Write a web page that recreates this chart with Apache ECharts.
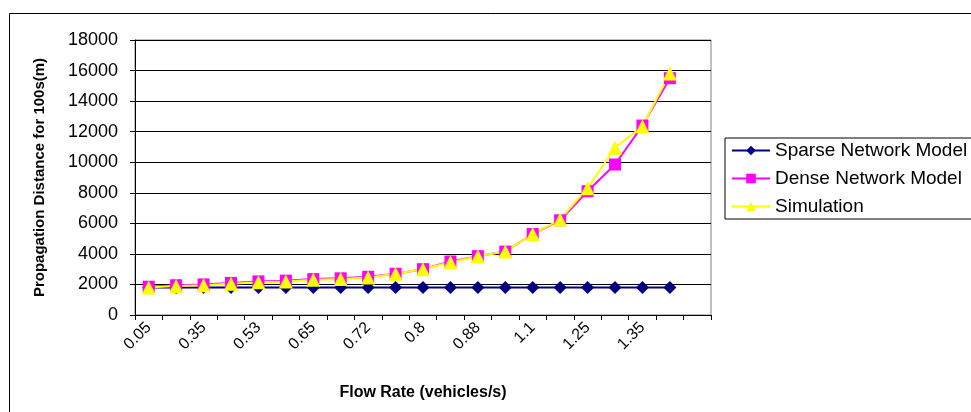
<!DOCTYPE html>
<html><head><meta charset="utf-8">
<script src="https://cdn.jsdelivr.net/npm/echarts@6/dist/echarts.min.js"></script>
<style>html,body{margin:0;padding:0;background:#fff}#c{width:971px;height:412px}</style>
</head><body><div id="c"></div>
<script>
var categories = ['0.05','0.2','0.35','0.45','0.53','0.6','0.65','0.7','0.72','0.75','0.8','0.85','0.88','1','1.1','1.2','1.25','1.3','1.35','1.4',''];
var sparse = [1800,1800,1800,1800,1800,1800,1800,1800,1800,1800,1800,1800,1800,1800,1800,1800,1800,1800,1800,1800];
var dense = [1850,1950,2000,2100,2200,2250,2350,2400,2500,2700,3000,3500,3850,4150,5300,6200,8100,9850,12400,15500];
var simulation = [1800,1900,1950,2050,2150,2200,2300,2350,2450,2700,3000,3450,3850,4150,5300,6250,8300,10950,12350,15800];
var yTicks = {min:0, max:18000, interval:2000};

var chart = echarts.init(document.getElementById('c'));
var F = 'Liberation Sans, Arial, sans-serif';
chart.setOption({
  animation:false,
  graphic:[{type:'rect',shape:{x:9.5,y:13.5,width:1000,height:500},style:{fill:'none',stroke:'#000',lineWidth:1}}],
  grid:{left:135,right:260,top:40,bottom:97,show:true,borderColor:'#808080',borderWidth:1},
  legend:{
    left:725, top:138, orient:'vertical', itemGap:9, itemWidth:38, itemHeight:12,
    padding:[3,12,3,6], borderColor:'#000', borderWidth:1, itemStyle:{borderWidth:0},
    textStyle:{fontFamily:F,fontSize:19,color:'#000'},
    data:['Sparse Network Model','Dense Network Model','Simulation']
  },
  xAxis:{
    type:'category', data:categories, boundaryGap:true,
    name:'Flow Rate (vehicles/s)', nameLocation:'middle', nameGap:70,
    nameTextStyle:{fontFamily:F,fontSize:16,fontWeight:'bold',color:'#000'},
    axisLine:{lineStyle:{color:'#000',width:1}},
    axisTick:{show:true,interval:0,alignWithLabel:false,length:5,lineStyle:{color:'#000'}},
    axisLabel:{interval:1,rotate:45,fontFamily:F,fontSize:16,color:'#000',margin:10},
    splitLine:{show:false}
  },
  yAxis:{
    type:'value', min:yTicks.min, max:yTicks.max, interval:yTicks.interval,
    name:'Propagation Distance for 100s(m)', nameLocation:'middle', nameGap:88,
    nameTextStyle:{fontFamily:F,fontSize:15,fontWeight:'bold',color:'#000'},
    axisLine:{show:true,lineStyle:{color:'#000',width:1}},
    axisTick:{show:true,length:5,lineStyle:{color:'#000'}},
    axisLabel:{fontFamily:F,fontSize:18,color:'#000',margin:17,formatter:function(v){return String(v);}},
    splitLine:{lineStyle:{color:'#000',width:1}}
  },
  series:[
    {name:'Sparse Network Model',type:'line',data:sparse,symbol:'diamond',symbolSize:13,
     lineStyle:{color:'#000080',width:2},itemStyle:{color:'#000080'}},
    {name:'Dense Network Model',type:'line',data:dense,symbol:'rect',symbolSize:12,
     lineStyle:{color:'#FF00FF',width:2},itemStyle:{color:'#FF00FF'}},
    {name:'Simulation',type:'line',data:simulation,symbol:'triangle',symbolSize:14,
     lineStyle:{color:'#FFFF00',width:2},itemStyle:{color:'#FFFF00'}}
  ]
});
</script></body></html>
